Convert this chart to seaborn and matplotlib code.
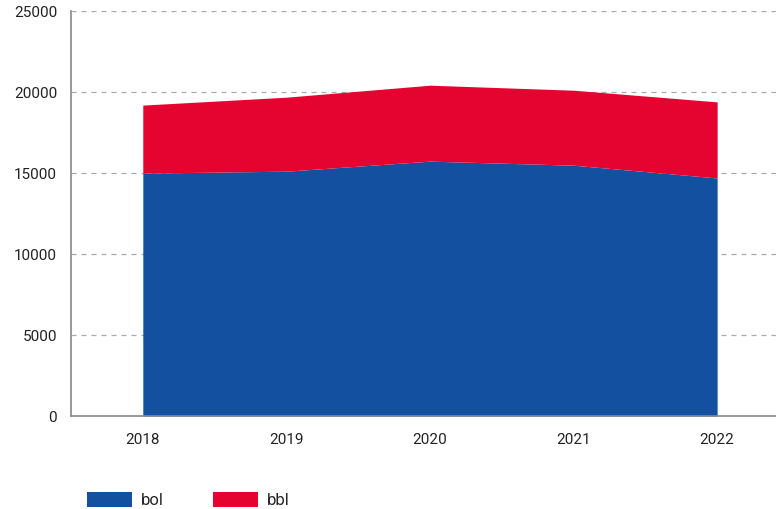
import matplotlib
matplotlib.use("Agg")
import matplotlib.pyplot as plt
from matplotlib.patches import Patch
import seaborn as sns

years = ["2018", "2019", "2020", "2021", "2022"]
bol = [15000, 15120, 15740, 15490, 14700]
bbl = [4200, 4570, 4690, 4630, 4700]
series_names = ["bol", "bbl"]
colors = ["#1351A0", "#E4042F"]
y_ticks = [0, 5000, 10000, 15000, 20000, 25000]

sns.set_theme(style="white")
plt.rcParams["font.family"] = ["Roboto", "DejaVu Sans"]

fig = plt.figure(figsize=(7.76, 5.09), dpi=100)
ax = fig.add_axes([0.0915, 0.1827, 0.9085, 0.7953])

x = list(range(len(years)))
ax.stackplot(x, bol, bbl, colors=colors, labels=series_names, linewidth=0)

ax.set_xlim(-0.5, 4.41)
ax.set_ylim(0, 25000)
ax.set_xticks(x)
ax.set_xticklabels(years)
ax.set_yticks(y_ticks)
ax.set_yticklabels([str(v) for v in y_ticks])
ax.tick_params(axis="both", labelsize=11, colors="#222222", length=0)
ax.tick_params(axis="x", pad=12)
ax.tick_params(axis="y", pad=10)

for v in y_ticks[1:]:
    ax.axhline(v, color="#aaaaaa", linewidth=0.9, linestyle=(0, (4, 4)), zorder=0)

for side in ["top", "right"]:
    ax.spines[side].set_visible(False)
for side in ["left", "bottom"]:
    ax.spines[side].set_color("#888888")
    ax.spines[side].set_linewidth(1.2)

handles = [Patch(facecolor=c, edgecolor="none") for c in colors]
fig.legend(handles, series_names, loc="center left", bbox_to_anchor=(0.093, 0.018),
           ncol=2, frameon=False, fontsize=12, handlelength=2.7, handleheight=1.0,
           columnspacing=3.0, handletextpad=0.5)

fig.savefig("out.png", dpi=100)
